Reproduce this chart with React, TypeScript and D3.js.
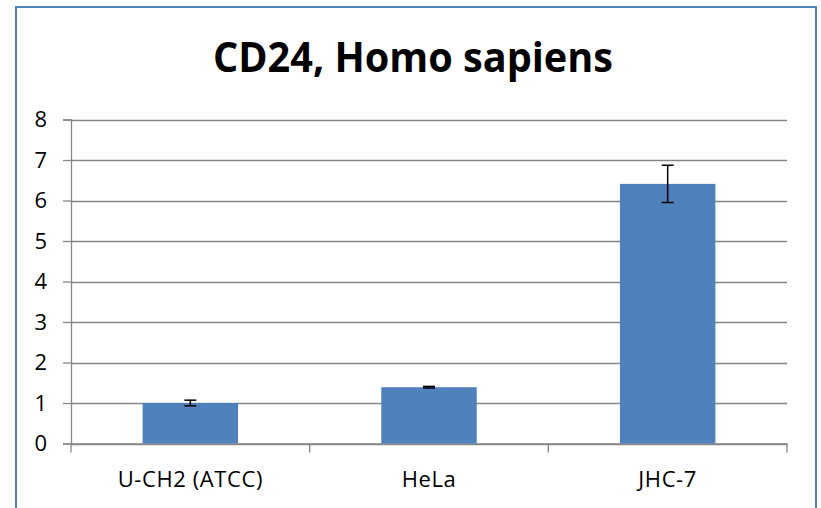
import React, { useRef, useEffect } from 'react';
import * as d3 from 'd3';

const categories = ['U-CH2 (ATCC)', 'HeLa', 'JHC-7'];
const values = [1.0, 1.39, 6.41];
const errors = [0.07, 0.02, 0.46];
const yTicks = [0, 1, 2, 3, 4, 5, 6, 7, 8];
const title = 'CD24, Homo sapiens';

const App: React.FC = () => {
  const chartRef = useRef<SVGSVGElement>(null);

  useEffect(() => {
    if (!chartRef.current) return;
    const svg = d3.select(chartRef.current);
    svg.selectAll('*').remove();

    const font = "'Open Sans', 'DejaVu Sans', sans-serif";
    const left = 71;
    const right = 787;
    const top = 119.5;
    const bottom = 443.5;

    // chart border
    svg.append('rect')
      .attr('x', 16)
      .attr('y', 7)
      .attr('width', 800)
      .attr('height', 520)
      .attr('fill', '#fff')
      .attr('stroke', '#4F81BD')
      .attr('stroke-width', 2);

    svg.append('text')
      .attr('x', 413)
      .attr('y', 72)
      .attr('text-anchor', 'middle')
      .style('font-family', font)
      .style('font-weight', 'bold')
      .style('font-size', '41px')
      .attr('textLength', 400)
      .attr('lengthAdjust', 'spacingAndGlyphs')
      .attr('fill', '#000')
      .text(title);

    const x = d3.scaleBand()
      .domain(categories)
      .range([left, right])
      .paddingInner(0)
      .paddingOuter(0);

    const y = d3.scaleLinear()
      .domain([0, 8])
      .range([bottom, top]);

    // gridlines
    svg.append('g')
      .selectAll('line')
      .data(yTicks)
      .enter()
      .append('line')
      .attr('x1', left)
      .attr('x2', right)
      .attr('y1', d => Math.round(y(d)) + 0.5)
      .attr('y2', d => Math.round(y(d)) + 0.5)
      .attr('stroke', '#868686')
      .attr('stroke-width', 1.3);

    // y axis
    const yAxis = svg.append('g')
      .attr('transform', `translate(${left},0)`)
      .call(d3.axisLeft(y).tickValues(yTicks).tickSize(8).tickPadding(16).tickFormat(d3.format('d')));
    yAxis.select('.domain').attr('stroke', '#868686').attr('stroke-width', 1.3);
    yAxis.selectAll('.tick line').attr('stroke', '#868686').attr('stroke-width', 1.3);
    yAxis.selectAll('text')
      .style('font-family', font)
      .style('font-size', '22px')
      .attr('fill', '#000');

    // x axis
    const xAxis = svg.append('g')
      .attr('transform', `translate(0,${bottom})`)
      .call(d3.axisBottom(x).tickSize(0).tickPadding(28));
    xAxis.select('.domain').attr('stroke', '#868686').attr('stroke-width', 1.3);
    xAxis.selectAll('text')
      .style('font-family', font)
      .style('font-size', '22px')
      .style('letter-spacing', '0.6px')
      .attr('fill', '#000');

    // category separators
    const bounds = [left, ...categories.map(c => (x(c) as number) + x.bandwidth())];
    svg.append('g')
      .selectAll('line')
      .data(bounds)
      .enter()
      .append('line')
      .attr('x1', d => d)
      .attr('x2', d => d)
      .attr('y1', bottom)
      .attr('y2', bottom + 9)
      .attr('stroke', '#868686')
      .attr('stroke-width', 1.3);

    const barW = x.bandwidth() / 2.5;

    // bars
    svg.append('g')
      .selectAll('rect')
      .data(values)
      .enter()
      .append('rect')
      .attr('x', (d, i) => (x(categories[i]) as number) + (x.bandwidth() - barW) / 2)
      .attr('y', d => y(d))
      .attr('width', barW)
      .attr('height', d => bottom - y(d))
      .attr('fill', '#4F81BD');

    // error bars
    const eb = svg.append('g').attr('stroke', '#000').attr('stroke-width', 1.5);
    values.forEach((v, i) => {
      const cx = (x(categories[i]) as number) + x.bandwidth() / 2;
      const hi = y(v + errors[i]);
      const lo = y(v - errors[i]);
      eb.append('line').attr('x1', cx).attr('x2', cx).attr('y1', hi).attr('y2', lo);
      eb.append('line').attr('x1', cx - 6).attr('x2', cx + 6).attr('y1', hi).attr('y2', hi);
      eb.append('line').attr('x1', cx - 6).attr('x2', cx + 6).attr('y1', lo).attr('y2', lo);
    });
  }, []);

  return (
    <svg
      ref={chartRef}
      width={821}
      height={508}
      style={{ position: 'absolute', left: 0, top: 0, background: '#fff' }}
    />
  );
};

export default App;
